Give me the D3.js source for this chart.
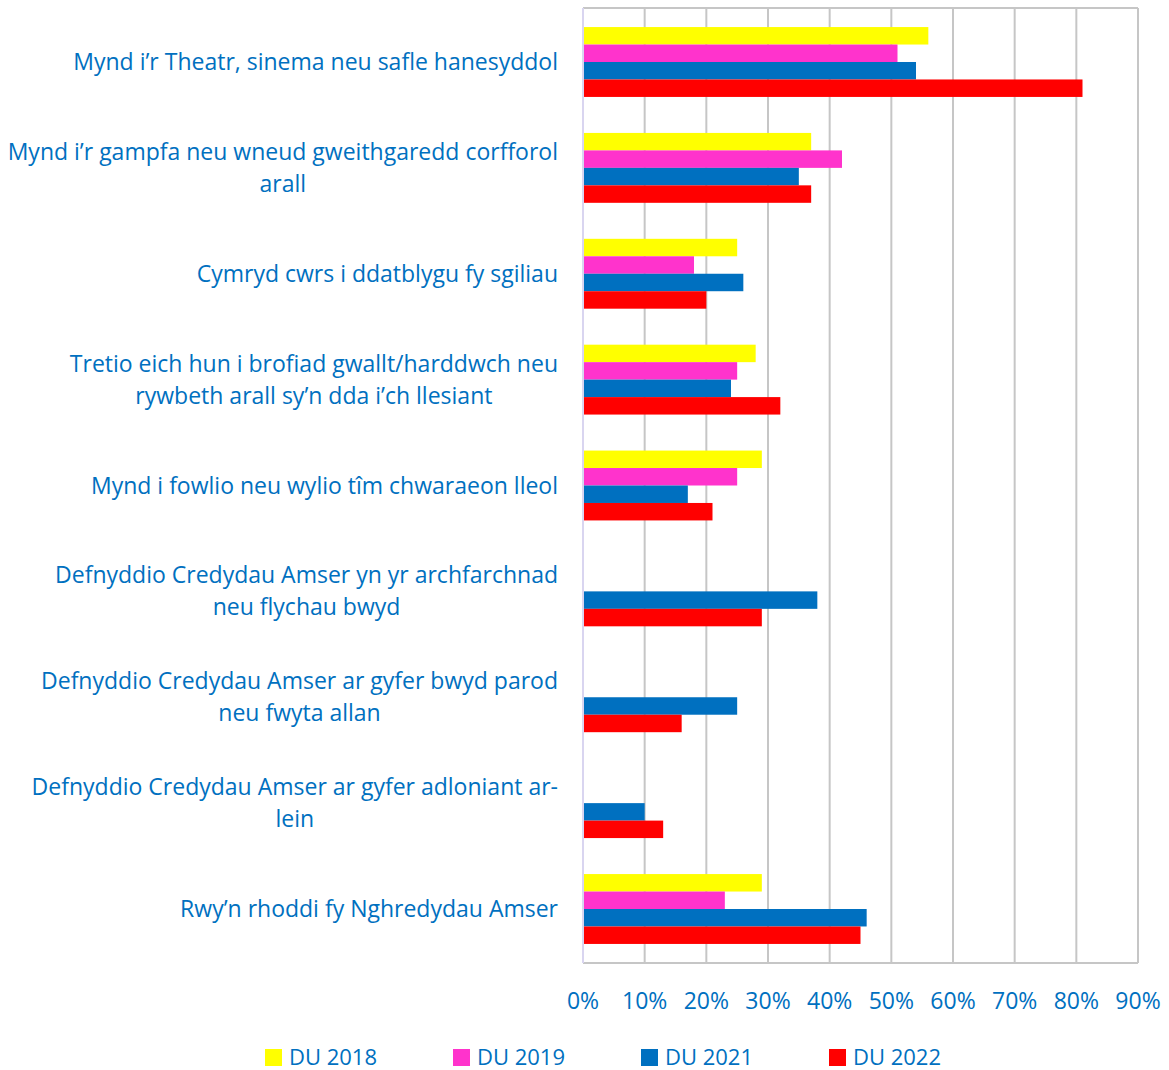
<!DOCTYPE html>
<html lang="cy">
<head>
<meta charset="utf-8">
<title>Credydau Amser</title>
<script src="https://d3js.org/d3.v7.min.js"></script>
<style>
  body { margin: 0; background: #fff; }
  text { font-family: "Open Sans", "Noto Sans", sans-serif; fill: #0070C0; }
</style>
</head>
<body>
<script>
// categories (each entry = lines of the label)
var categories = [
  ["Mynd i\u2019r Theatr, sinema neu safle hanesyddol"],
  ["Mynd i\u2019r gampfa neu wneud gweithgaredd corfforol", "arall"],
  ["Cymryd cwrs i ddatblygu fy sgiliau"],
  ["Tretio eich hun i brofiad gwallt/harddwch neu", "rywbeth arall sy\u2019n dda i\u2019ch llesiant"],
  ["Mynd i fowlio neu wylio t\u00eem chwaraeon lleol"],
  ["Defnyddio Credydau Amser yn yr archfarchnad", "neu flychau bwyd"],
  ["Defnyddio Credydau Amser ar gyfer bwyd parod", "neu fwyta allan"],
  ["Defnyddio Credydau Amser ar gyfer adloniant ar-", "lein"],
  ["Rwy\u2019n rhoddi fy Nghredydau Amser"]
];
var seriesNames = ["DU 2018", "DU 2019", "DU 2021", "DU 2022"];
var du2018 = [56, 37, 25, 28, 29, null, null, null, 29];
var du2019 = [51, 42, 18, 25, 25, null, null, null, 23];
var du2021 = [54, 35, 26, 24, 17, 38, 25, 10, 46];
var du2022 = [81, 37, 20, 32, 21, 29, 16, 13, 45];
var seriesColors = ["#FFFF00", "#FF33CC", "#0070C0", "#FF0000"];
var ticks = [0, 10, 20, 30, 40, 50, 60, 70, 80, 90];

var allSeries = [du2018, du2019, du2021, du2022];

var w = 1169, h = 1070;
var plotL = 583, plotR = 1138, plotT = 8, plotB = 963;

var svg = d3.select("body").append("svg")
  .attr("width", w).attr("height", h);

var x = d3.scaleLinear().domain([0, 90]).range([plotL, plotR]);
var y = d3.scaleBand().domain(d3.range(categories.length))
  .range([plotT, plotB]).paddingInner(0.34).paddingOuter(0.18);
var ySub = d3.scaleBand().domain(d3.range(seriesNames.length))
  .range([0, y.bandwidth()]);

// gridlines
svg.append("g").selectAll("line")
  .data(ticks.slice(1))
  .join("line")
  .attr("x1", d => x(d)).attr("x2", d => x(d))
  .attr("y1", plotT).attr("y2", plotB)
  .attr("stroke", "#C6C6C6").attr("stroke-width", 2);
// top and bottom border
svg.append("line").attr("x1", plotL).attr("x2", plotR).attr("y1", plotT).attr("y2", plotT)
  .attr("stroke", "#C6C6C6").attr("stroke-width", 2);
svg.append("line").attr("x1", plotL).attr("x2", plotR).attr("y1", plotB).attr("y2", plotB)
  .attr("stroke", "#C6C6C6").attr("stroke-width", 2);

// bars
var groups = svg.append("g").selectAll("g")
  .data(allSeries)
  .join("g")
  .attr("fill", (d, i) => seriesColors[i]);

groups.each(function(vals, si) {
  d3.select(this).selectAll("rect")
    .data(vals.map((v, ci) => ({ v: v, ci: ci })).filter(d => d.v != null))
    .join("rect")
    .attr("x", x(0))
    .attr("y", d => y(d.ci) + ySub(si))
    .attr("width", d => x(d.v) - x(0))
    .attr("height", ySub.bandwidth());
});

// left axis line
svg.append("line").attr("x1", plotL).attr("x2", plotL).attr("y1", plotT).attr("y2", plotB)
  .attr("stroke", "#D9D5F0").attr("stroke-width", 2);

// x tick labels
svg.append("g").selectAll("text")
  .data(ticks)
  .join("text")
  .attr("x", d => x(d))
  .attr("y", 1009)
  .attr("text-anchor", "middle")
  .style("font-size", "23px")
  .text(d => d + "%");

// category labels: centred block, right edge at 558
var labelRight = 558, lineH = 32;
categories.forEach(function(lines, ci) {
  var g = svg.append("g");
  var cy = y(ci) + y.bandwidth() / 2;
  var texts = lines.map(function(s, li) {
    return g.append("text")
      .attr("y", cy + (li - (lines.length - 1) / 2) * lineH)
      .attr("dy", "0.35em")
      .attr("text-anchor", "middle")
      .style("font-size", "23px")
      .text(s);
  });
  var maxW = d3.max(texts, t => t.node().getComputedTextLength());
  texts.forEach(t => t.attr("x", labelRight - maxW / 2));
});

// legend
var legendX = [265, 453, 641, 829];
var lg = svg.append("g").selectAll("g")
  .data(seriesNames)
  .join("g")
  .attr("transform", (d, i) => "translate(" + legendX[i] + ",1057)");
lg.append("rect").attr("x", 0).attr("y", -8).attr("width", 17).attr("height", 17)
  .attr("fill", (d, i) => seriesColors[i]);
lg.append("text").attr("x", 24).attr("dy", "0.35em")
  .style("font-size", "22px")
  .text(d => d);
</script>
</body>
</html>
